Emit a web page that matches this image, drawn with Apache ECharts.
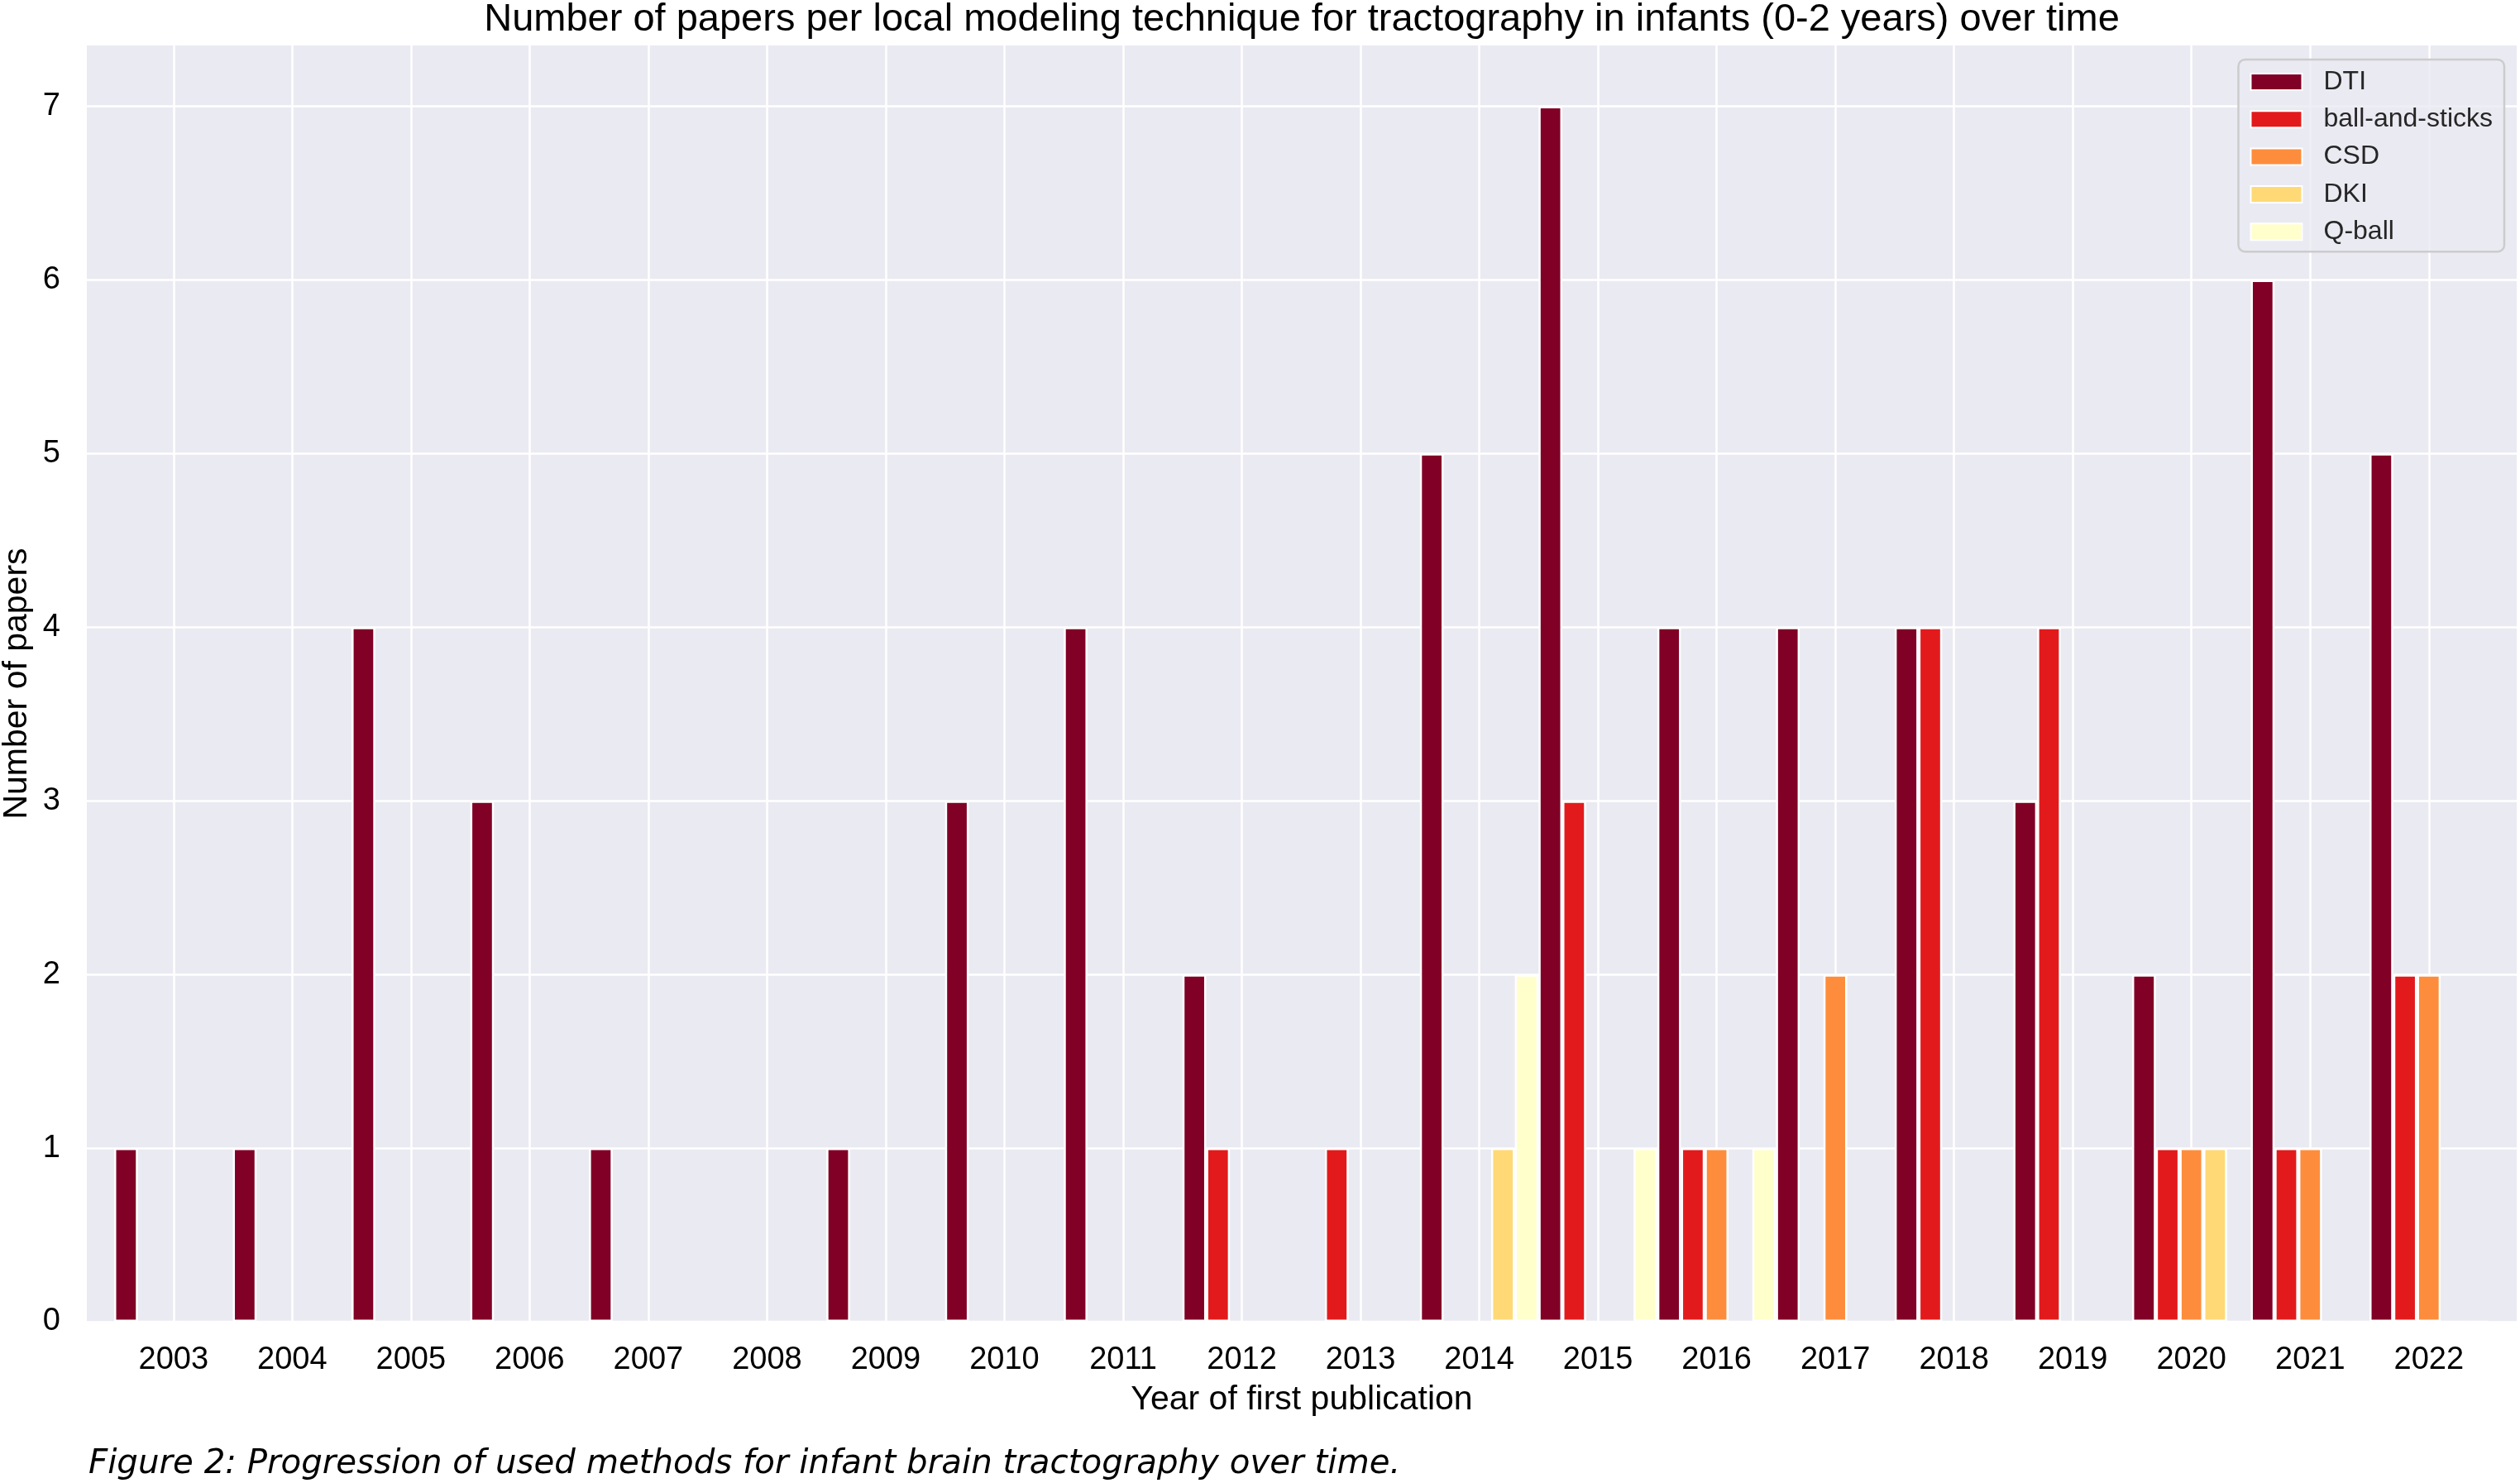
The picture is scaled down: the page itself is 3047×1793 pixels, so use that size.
<!DOCTYPE html>
<html>
<head>
<meta charset="utf-8">
<script src="https://cdn.jsdelivr.net/npm/echarts@6/dist/echarts.min.js"></script>
<style>
html,body{margin:0;padding:0;background:#fff;}
#chart{width:3047px;height:1793px;}
</style>
</head>
<body>
<div id="chart"></div>
<script>
const years = [2003,2004,2005,2006,2007,2008,2009,2010,2011,2012,2013,2014,2015,2016,2017,2018,2019,2020,2021,2022];
const seriesNames = ['DTI','ball-and-sticks','CSD','DKI','Q-ball'];
const dti   = [1,1,4,3,1,0,1,3,4,2,0,5,7,4,4,4,3,2,6,5];
const bas   = [0,0,0,0,0,0,0,0,0,1,1,0,3,1,0,4,4,1,1,2];
const csd   = [0,0,0,0,0,0,0,0,0,0,0,0,0,1,2,0,0,1,1,2];
const dki   = [0,0,0,0,0,0,0,0,0,0,0,1,0,0,0,0,0,1,0,0];
const qball = [0,0,0,0,0,0,0,0,0,0,0,2,1,1,0,0,0,0,0,0];
const yTicks = [0,1,2,3,4,5,6,7];
const colors = ['#800026','#e31a1c','#fd8d3c','#fed976','#ffffcc'];
const titleText = 'Number of papers per local modeling technique for tractography in infants (0-2 years) over time';
const captionText = 'Figure 2: Progression of used methods for infant brain tractography over time.';

const allValues = [dti, bas, csd, dki, qball];
const chart = echarts.init(document.getElementById('chart'), null, {renderer: 'canvas'});
const font = 'Liberation Sans';

const series = seriesNames.map((name, k) => ({
  name: name,
  type: 'bar',
  barGap: '0%',
  barCategoryGap: '0%',
  data: years.map((y, i) => [y, allValues[k][i]]),
  itemStyle: {color: colors[k], borderColor: '#ffffff', borderWidth: 2.5},
  emphasis: {disabled: true},
  animation: false
}));

chart.setOption({
  animation: false,
  backgroundColor: '#ffffff',
  title: [{
    text: captionText,
    left: 107,
    top: 1751,
    padding: 0,
    textStyle: {fontFamily: 'DejaVu Sans', fontStyle: 'italic', fontSize: 40.3, fontWeight: 'normal', color: '#000'}
  }],
  graphic: [{
    type: 'text',
    x: 1574,
    y: 24,
    style: {
      text: titleText,
      font: 'normal 47px "Liberation Sans"',
      fill: '#000',
      textAlign: 'center',
      textVerticalAlign: 'middle'
    }
  }],
  legend: {
    orient: 'vertical',
    right: 19,
    top: 72,
    icon: 'rect',
    itemWidth: 62,
    itemHeight: 20,
    itemGap: 13.3,
    padding: [11, 14, 8, 14],
    backgroundColor: 'rgba(234,234,242,0.8)',
    borderColor: '#cccccc',
    borderWidth: 2.5,
    borderRadius: 8,
    textStyle: {fontFamily: font, fontSize: 32, lineHeight: 32, color: '#262626', padding: [0, 0, 0, 21]},
    data: seriesNames
  },
  grid: {
    left: 105, right: 4, top: 55, bottom: 195,
    show: true, backgroundColor: '#eaeaf2', borderWidth: 0,
    containLabel: false, outerBoundsMode: 'none'
  },
  xAxis: {
    type: 'value',
    min: 2002.27,
    max: 2022.74,
    name: 'Year of first publication',
    nameLocation: 'middle',
    nameGap: 74,
    nameTextStyle: {fontFamily: font, fontSize: 41, color: '#000'},
    axisLine: {show: false},
    axisTick: {show: false, customValues: years},
    axisLabel: {
      customValues: years,
      formatter: v => String(v),
      fontFamily: font, fontSize: 38, color: '#000', margin: 28
    },
    splitLine: {show: true, lineStyle: {color: '#ffffff', width: 2.5}}
  },
  yAxis: {
    type: 'value',
    min: 0,
    max: 7.35,
    name: 'Number of papers',
    nameLocation: 'middle',
    nameRotate: 90,
    nameGap: 61,
    nameTextStyle: {fontFamily: font, fontSize: 41, color: '#000'},
    axisLine: {show: false},
    axisTick: {show: false, customValues: yTicks},
    axisLabel: {
      customValues: yTicks,
      formatter: v => String(v),
      fontFamily: font, fontSize: 38, color: '#000', margin: 32
    },
    splitLine: {show: true, lineStyle: {color: '#ffffff', width: 2.5}}
  },
  series: series
});
</script>
</body>
</html>
